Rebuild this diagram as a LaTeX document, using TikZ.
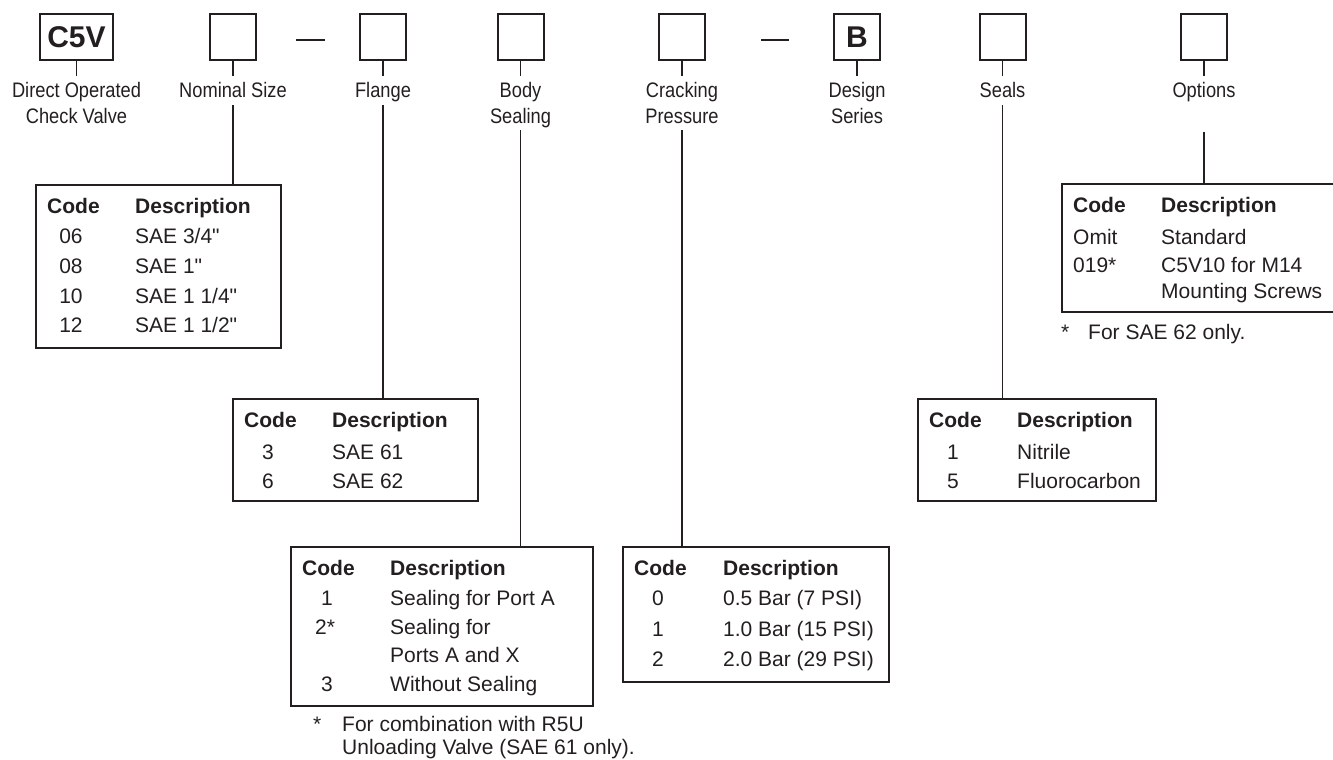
\documentclass[tikz,border=0pt]{standalone}
\usepackage{fontspec}
\setmainfont{Liberation Sans}
\newfontfamily\condf[FakeStretch=0.87]{Liberation Sans}
\newcommand\dq{\XeTeXglyph\XeTeXcharglyph"0022\relax}
\definecolor{ink}{RGB}{35,31,32}
\begin{document}
\begin{tikzpicture}[x=1pt,y=-1pt,
  sq/.style={draw=ink, line width=2pt, minimum width=46pt, minimum height=46pt, inner sep=0pt, text=ink,
             font=\fontsize{30}{30}\selectfont\bfseries},
  tab/.style={draw=ink, line width=1.6pt, inner sep=0pt, anchor=north west},
  lab/.style={font=\condf\fontsize{21}{26}\selectfont, align=center, inner sep=0pt, anchor=north, text=ink},
  t/.style={font=\fontsize{21}{25}\selectfont, inner sep=0pt, anchor=base west, text=ink},
  h/.style={t, font=\fontsize{21}{25}\selectfont\bfseries},
  c/.style={t, anchor=base},
  conn/.style={draw=ink, line width=1.5pt}]
\useasboundingbox (0,0) rectangle (1333,760);

% top code boxes
\node[sq, minimum width=73pt] (c5v) at (76.5,37) {C5V};
\node[sq] (nom) at (233,37) {};
\node[sq] (fla) at (383,37) {};
\node[sq] (bod) at (520.5,37) {};
\node[sq] (cra) at (682,37) {};
\node[sq] (des) at (857,37) {B};
\node[sq] (sea) at (1002.5,37) {};
\node[sq] (opt) at (1204,37) {};

% dashes
\coordinate (d1a) at (296,40); \coordinate (d1b) at (325,40);
\coordinate (d2a) at (761,40); \coordinate (d2b) at (789,40);
\draw[conn] (d1a) -- (d1b);
\draw[conn] (d2a) -- (d2b);

% ticks
\foreach \b in {c5v,nom,fla,bod,cra,des,sea,opt}
  \draw[conn] (\b.south) -- ++(0,15);

% labels
\node[lab] (lc5v) at (76.5,82) {Direct Operated\\Check Valve};
\node[lab] (lnom) at (233,82) {Nominal Size};
\node[lab] (lfla) at (383,82) {Flange};
\node[lab] (lbod) at (520.5,82) {Body\\Sealing};
\node[lab] (lcra) at (682,82) {Cracking\\Pressure};
\node[lab] (ldes) at (857,82) {Design\\Series};
\node[lab] (lsea) at (1002.5,82) {Seals};
\node[lab] (lopt) at (1204,82) {Options};

% tables
\node[tab, minimum width=245pt, minimum height=163pt] (tnom) at (35,184) {};
\node[tab, minimum width=245pt, minimum height=102pt] (tfla) at (232,398) {};
\node[tab, minimum width=302pt, minimum height=159pt] (tbod) at (290,546) {};
\node[tab, minimum width=266pt, minimum height=135pt] (tcra) at (622,546) {};
\node[tab, minimum width=238pt, minimum height=102pt] (tsea) at (917,398) {};
\node[tab, minimum width=290pt, minimum height=128pt] (topt) at (1061,183) {};

% connectors
\coordinate (snom) at (233,105);
\coordinate (sfla) at (383,105);
\coordinate (sbod) at (520.5,130);
\coordinate (scra) at (682,130);
\coordinate (ssea) at (1002.5,105);
\coordinate (sopt) at (1204,132);
\draw[conn] (snom) -- (snom |- tnom.north);
\draw[conn] (sfla) -- (sfla |- tfla.north);
\draw[conn] (sbod) -- (sbod |- tbod.north);
\draw[conn] (scra) -- (scra |- tcra.north);
\draw[conn] (ssea) -- (ssea |- tsea.north);
\draw[conn] (sopt) -- (sopt |- topt.north);

% nominal size table
\node[h] (n0) at (47,213.5) {Code};
\node[h] (n1) at (135,213.5) {Description};
\node[c] (n2) at (71,243.5) {06};  \node[t] (n3) at (135,243.5) {SAE 3/4\dq};
\node[c] (n4) at (71,273.5) {08};  \node[t] (n5) at (135,273.5) {SAE 1\dq};
\node[c] (n6) at (71,303.5) {10};  \node[t] (n7) at (135,303.5) {SAE 1 1/4\dq};
\node[c] (n8) at (71,332.5) {12};  \node[t] (n9) at (135,332.5) {SAE 1 1/2\dq};

% flange table
\node[h] (f0) at (244,427.5) {Code};
\node[h] (f1) at (332,427.5) {Description};
\node[c] (f2) at (268,459) {3};  \node[t] (f3) at (332,459) {SAE 61};
\node[c] (f4) at (268,488.5) {6};  \node[t] (f5) at (332,488.5) {SAE 62};

% body sealing table
\node[h] (b0) at (302,575.5) {Code};
\node[h] (b1) at (390,575.5) {Description};
\node[c] (b2) at (327,605.5) {1};   \node[t] (b3) at (390,605.5) {Sealing for Port A};
\node[c] (b4) at (325,634.5) {2*};  \node[t] (b5) at (390,634.5) {Sealing for};
\node[t] (b6) at (390,662.5) {Ports A and X};
\node[c] (b7) at (327,691.5) {3};   \node[t] (b8) at (390,691.5) {Without Sealing};
\node[t] (b9) at (313,731) {*};
\node[t] (b10) at (342,731) {For combination with R5U};
\node[t] (b11) at (342,754) {Unloading Valve (SAE 61 only).};

% cracking pressure table
\node[h] (k0) at (634,575.5) {Code};
\node[h] (k1) at (723,575.5) {Description};
\node[c] (k2) at (658,605.5) {0};  \node[t] (k3) at (723,605.5) {0.5 Bar (7 PSI)};
\node[c] (k4) at (658,636) {1};  \node[t] (k5) at (723,636) {1.0 Bar (15 PSI)};
\node[c] (k6) at (658,666) {2};  \node[t] (k7) at (723,666) {2.0 Bar (29 PSI)};

% seals table
\node[h] (s0) at (929,427.5) {Code};
\node[h] (s1) at (1017,427.5) {Description};
\node[c] (s2) at (953,459) {1};  \node[t] (s3) at (1017,459) {Nitrile};
\node[c] (s4) at (953,488.5) {5};  \node[t] (s5) at (1017,488.5) {Fluorocarbon};

% options table
\node[h] (o0) at (1073,212.5) {Code};
\node[h] (o1) at (1161,212.5) {Description};
\node[t] (o2) at (1073,244) {Omit};  \node[t] (o3) at (1161,244) {Standard};
\node[t] (o4) at (1073,272.5) {019*}; \node[t] (o5) at (1161,272.5) {C5V10 for M14};
\node[t] (o6) at (1161,298) {Mounting Screws};
\node[t] (o7) at (1061,339.5) {*};
\node[t] (o8) at (1088,339.5) {For SAE 62 only.};
\end{tikzpicture}
\end{document}
